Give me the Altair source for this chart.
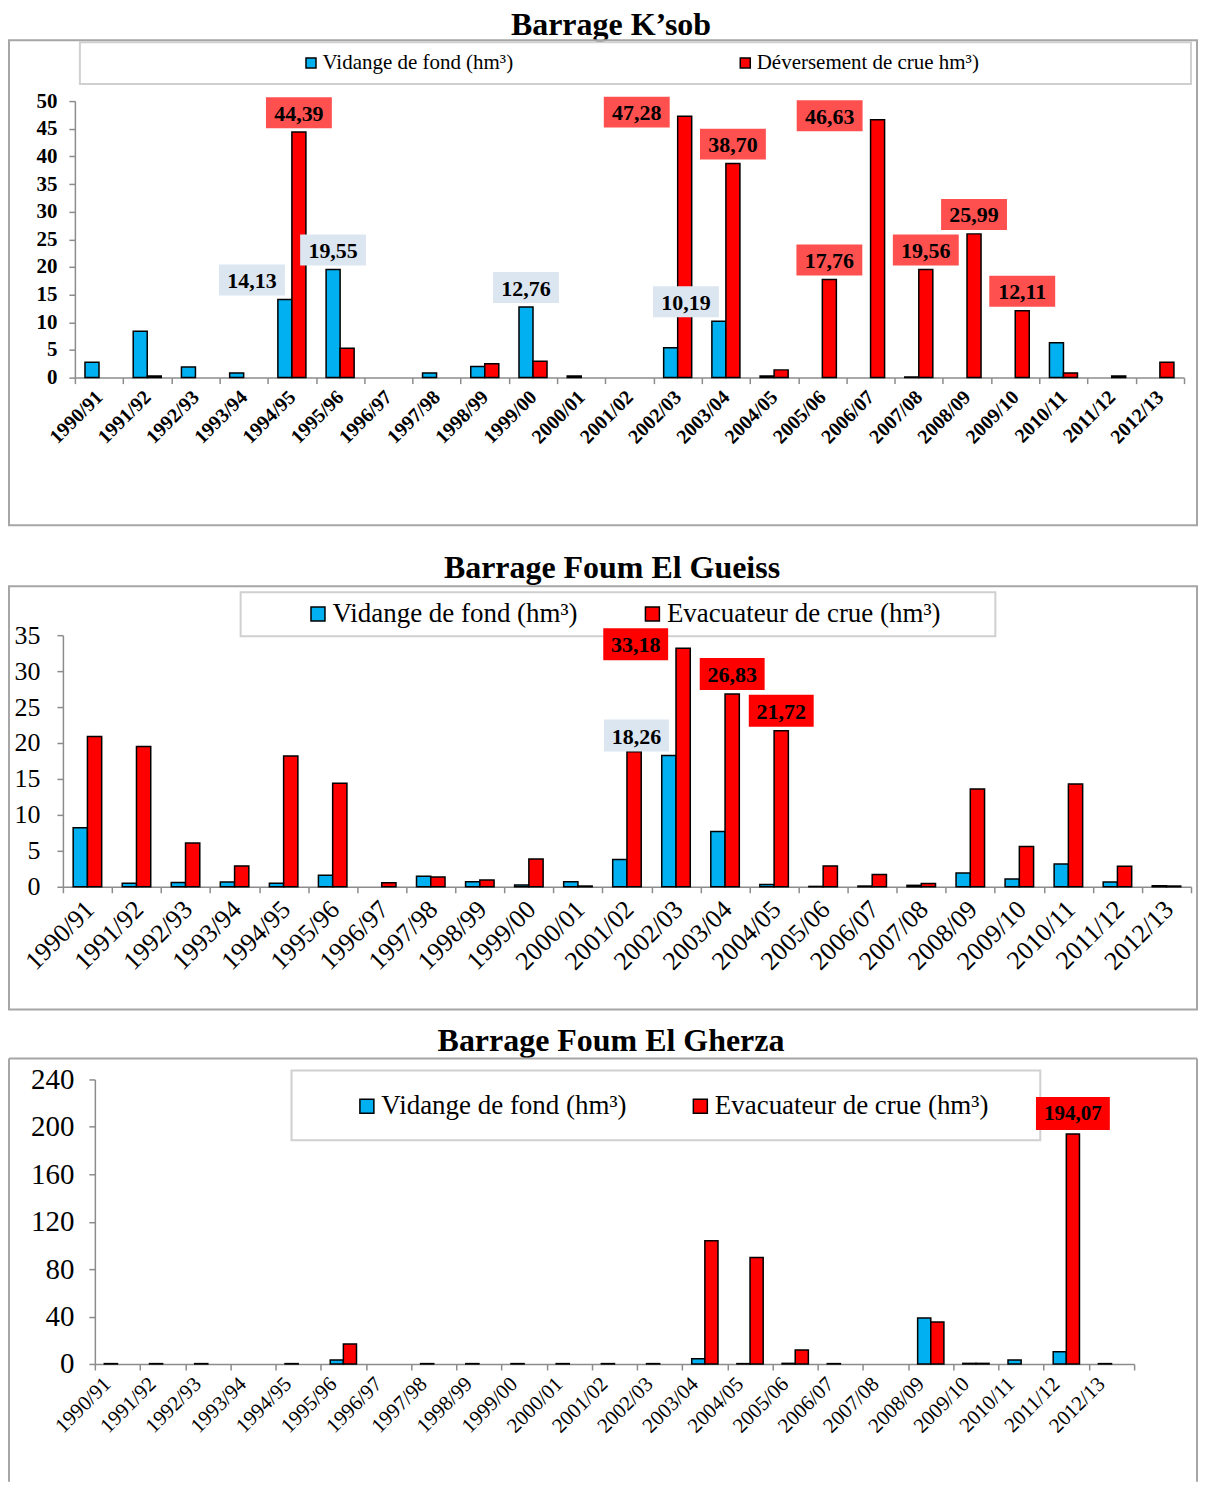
import altair as alt
import pandas as pd

# ---------------- data ----------------
cats = ["1990/91", "1991/92", "1992/93", "1993/94", "1994/95", "1995/96", "1996/97",
        "1997/98", "1998/99", "1999/00", "2000/01", "2001/02", "2002/03", "2003/04",
        "2004/05", "2005/06", "2006/07", "2007/08", "2008/09", "2009/10", "2010/11",
        "2011/12", "2012/13"]

ksob_title = "Barrage K\u2019sob"
ksob_vid_name = "Vidange de fond (hm\u00b3)"
ksob_red_name = "D\u00e9versement de crue hm\u00b3)"
ksob_vid = [2.8, 8.4, 1.9, 0.85, 14.13, 19.55, 0, 0.85, 2.0, 12.76, 0.3, 0, 5.4, 10.19,
            0.3, 0, 0, 0.1, 0, 0, 6.3, 0, 0]
ksob_red = [0, 0.3, 0, 0, 44.39, 5.3, 0, 0, 2.5, 2.95, 0, 0, 47.28, 38.70, 1.4, 17.76,
            46.63, 19.56, 25.99, 12.11, 0.85, 0.3, 2.8]
ksob_lab_vid = ["1994/95", "1995/96", "1999/00", "2003/04"]
ksob_lab_red = ["1994/95", "2002/03", "2003/04", "2005/06", "2006/07", "2007/08",
                "2008/09", "2009/10"]

gueiss_title = "Barrage Foum El Gueiss"
gueiss_vid_name = "Vidange de fond (hm\u00b3)"
gueiss_red_name = "Evacuateur de crue (hm\u00b3)"
gueiss_vid = [8.2, 0.5, 0.6, 0.65, 0.5, 1.6, 0, 1.45, 0.7, 0.23, 0.7, 3.8, 18.26, 7.7,
              0.33, 0.05, 0.1, 0.2, 1.9, 1.07, 3.16, 0.65, 0.14]
gueiss_red = [20.9, 19.5, 6.1, 2.9, 18.2, 14.4, 0.56, 1.35, 0.93, 3.86, 0.1, 18.8, 33.18,
              26.83, 21.72, 2.9, 1.7, 0.45, 13.6, 5.6, 14.3, 2.84, 0.1]
gueiss_lab_vid = ["2002/03"]
gueiss_lab_red = ["2002/03", "2003/04", "2004/05"]

gherza_title = "Barrage Foum El Gherza"
gherza_vid_name = "Vidange de fond (hm\u00b3)"
gherza_red_name = "Evacuateur de crue (hm\u00b3)"
gherza_vid = [0.3, 0.3, 0.3, 0, 0.3, 3.4, 0, 0.3, 0.3, 0.3, 0.3, 0.3, 0.3, 4.5, 0.3, 0.5,
              0.3, 0, 38.7, 0.5, 3.4, 10.4, 0.3]
gherza_red = [0, 0, 0, 0, 0, 16.8, 0, 0, 0, 0, 0, 0, 0, 103.9, 89.8, 11.8, 0, 0, 35.4,
              0.5, 0, 194.07, 0]
gherza_lab_vid = []
gherza_lab_red = ["2011/12"]

# ---------------- style ----------------
SERIF = "Liberation Serif"
BLUE = "#00B0F0"
RED = "#FF0000"
AXIS_GREY = "#8C8C8C"
FRAME_GREY = "#A6A6A6"
BOX_GREY = "#D0D0D0"


def fmt(v):
    return f"{v:.2f}".replace(".", ",")


def box_path(ratio, x0, x1):
    return f"M{x0},-{ratio}L{x1},-{ratio}L{x1},{ratio}L{x0},{ratio}Z"


def one():
    return alt.Data(values=[{"k": 1}])


def panel(title, vid_name, red_name, vid, red, lab_vid, lab_red, g):
    order = [vid_name, red_name]
    rows = []
    for c, a, b in zip(cats, vid, red):
        rows.append({"cat": c, "series": vid_name, "value": a, "other": b})
        rows.append({"cat": c, "series": red_name, "value": b, "other": a})
    df = pd.DataFrame(rows)
    df["lab"] = df["value"].map(fmt)
    bars_df = df[df["value"] > 0]
    lv = df[(df["series"] == vid_name) & df["cat"].isin(lab_vid)]
    lv_left = lv[lv["other"] > lv["value"]]
    lv_mid = lv[lv["other"] <= lv["value"]]
    lr = df[(df["series"] == red_name) & df["cat"].isin(lab_red)]
    near_top = lr["value"] > 0.9 * g["ymax"]
    lr_side = lr[near_top]
    lr_mid = lr[~near_top]

    r0, r1 = g["xrange"]
    x = alt.X("cat:N", sort=cats,
              scale=alt.Scale(domain=cats, paddingInner=0, paddingOuter=0, range=[r0, r1]),
              axis=alt.Axis(title=None, labelAngle=-45, tickBand="extent",
                            labelFont=SERIF, labelFontSize=g["xfs"],
                            labelFontWeight=g["fw"], labelColor="black",
                            labelOffset=g["xlo"],
                            domainColor=AXIS_GREY, tickColor=AXIS_GREY,
                            domainWidth=1.5, tickWidth=1.5, tickSize=6,
                            labelPadding=3, labelLimit=300))
    xo = alt.XOffset("series:N", sort=order,
                     scale=alt.Scale(domain=order, paddingOuter=0.72, paddingInner=0))
    y = alt.Y("value:Q",
              scale=alt.Scale(domain=[0, g["ymax"]], nice=False),
              axis=alt.Axis(title=None, values=g["yticks"], grid=False, offset=-r0,
                            labelFont=SERIF, labelFontSize=g["yfs"],
                            labelFontWeight=g["fw"], labelColor="black",
                            domainColor=AXIS_GREY, tickColor=AXIS_GREY,
                            domainWidth=1.5, tickWidth=1.5, tickSize=6,
                            labelPadding=g["ylp"]))
    color = alt.Color("series:N", sort=order,
                      scale=alt.Scale(domain=order, range=[BLUE, RED]),
                      legend=alt.Legend(title=None, orient="none",
                                        legendX=g["lx"], legendY=g["ly"],
                                        direction="horizontal",
                                        columnPadding=g["lcp"],
                                        symbolType="square", symbolSize=g["ss"],
                                        symbolStrokeColor="black",
                                        symbolStrokeWidth=1.5,
                                        symbolOpacity=1,
                                        labelFont=SERIF, labelFontSize=g["lfs"],
                                        labelColor="black", labelLimit=500,
                                        labelOffset=1, padding=0))

    layers = []
    # invisible spacer fixing the top of this panel's block
    layers.append(alt.Chart(one()).mark_rule(strokeOpacity=0, strokeWidth=1).encode(
        x=alt.value(0), x2=alt.value(10), y=alt.value(g["top"])))
    # title
    layers.append(alt.Chart(one()).mark_text(
        text=title, font=SERIF, fontSize=32, fontWeight="bold", color="black",
        align="center", baseline="top").encode(
        x=alt.value(g["tx"]), y=alt.value(g["ty"])))
    # frame
    fx0, fx1, fy0, fy1 = g["frame"]
    if g.get("open_bottom"):
        for enc in (dict(x=alt.value(fx0), y=alt.value(fy0), y2=alt.value(fy1)),
                    dict(x=alt.value(fx1), y=alt.value(fy0), y2=alt.value(fy1)),
                    dict(x=alt.value(fx0), x2=alt.value(fx1), y=alt.value(fy0))):
            layers.append(alt.Chart(one()).mark_rule(color=FRAME_GREY, strokeWidth=2)
                          .encode(**enc))
    else:
        layers.append(alt.Chart(one()).mark_rect(fillOpacity=0, stroke=FRAME_GREY,
                                                 strokeWidth=2).encode(
            x=alt.value(fx0), x2=alt.value(fx1), y=alt.value(fy0), y2=alt.value(fy1)))
    # legend box
    bx0, bx1, by0, by1 = g["lbox"]
    layers.append(alt.Chart(one()).mark_rect(fillOpacity=0, stroke=BOX_GREY,
                                             strokeWidth=2).encode(
        x=alt.value(bx0), x2=alt.value(bx1), y=alt.value(by0), y2=alt.value(by1)))

    layers.append(alt.Chart(bars_df).mark_bar(stroke="black", strokeWidth=1.5).encode(
        x=x, xOffset=xo, y=y, color=color))

    bw, bh = g["box"]
    half = bw / 2
    ratio = round(bh / bw, 3)
    size = bw * bw
    above = -(bh / 2 + 4)
    gap = round(15 / half, 3)

    def label_layers(d, fill, kind):
        if len(d) == 0:
            return []
        if kind == "mid":
            x0, x1, yoff, dx = -1, 1, above, 0
        elif kind == "left_above":
            x0, x1, yoff, dx = -2, 0, above, -half
        else:  # beside, left of the bar near its top
            x0, x1, yoff, dx = -2 - gap, -gap, -4, -half - 15
        bx = alt.Chart(d).mark_point(shape=box_path(ratio, x0, x1), size=size,
                                     filled=True, fill=fill, opacity=1, strokeWidth=0,
                                     yOffset=yoff).encode(x=x, xOffset=xo, y=y)
        tx = alt.Chart(d).mark_text(font=SERIF, fontSize=g["tfs"], fontWeight="bold",
                                    color="black", align="center", baseline="middle",
                                    dx=dx, dy=yoff + 1).encode(
            x=x, xOffset=xo, y=y, text="lab:N")
        return [bx, tx]

    layers += label_layers(lv_left, "#DCE6F1", "left_above")
    layers += label_layers(lv_mid, "#DCE6F1", "mid")
    layers += label_layers(lr_mid, g["redbox"], "mid")
    layers += label_layers(lr_side, g["redbox"], "side")

    return alt.layer(*layers).properties(width=r1, height=g["h"])


# geometry is relative to each panel's plot origin (page x = 62)
g1 = dict(xrange=(12, 1123), h=277, ymax=50, yticks=list(range(0, 51, 5)), fw="bold",
          xfs=20, xlo=-7, yfs=21, ylp=12, top=-91, tx=549, ty=-91,
          frame=(-54, 1136, -61, 425), lbox=(17, 1130, -59, -17),
          lx=238, ly=-49, lcp=221, ss=100, lfs=21,
          box=(66, 31), tfs=22, redbox="#FF5050")
g2 = dict(xrange=(0, 1130), h=252, ymax=35, yticks=list(range(0, 36, 5)), fw="normal",
          xfs=26, xlo=-7, yfs=26, ylp=17, top=-109, tx=550, ty=-82,
          frame=(-54, 1136, -49, 375), lbox=(178, 934, -43, 1),
          lx=242, ly=-35, lcp=61, ss=196, lfs=27,
          box=(65, 32), tfs=22, redbox="#FF0000")
g3 = dict(xrange=(32, 1073), h=285, ymax=240, yticks=list(range(0, 241, 40)), fw="normal",
          xfs=21, xlo=-18, yfs=29, ylp=15, top=-69, tx=549, ty=-53,
          frame=(-54, 1136, -21, 403), open_bottom=True, lbox=(229, 979, -9, 61),
          lx=291, ly=13, lcp=60, ss=196, lfs=27,
          box=(74, 33), tfs=21, redbox="#FF0000")

p1 = panel(ksob_title, ksob_vid_name, ksob_red_name, ksob_vid, ksob_red,
           ksob_lab_vid, ksob_lab_red, g1)
p2 = panel(gueiss_title, gueiss_vid_name, gueiss_red_name, gueiss_vid, gueiss_red,
           gueiss_lab_vid, gueiss_lab_red, g2)
p3 = panel(gherza_title, gherza_vid_name, gherza_red_name, gherza_vid, gherza_red,
           gherza_lab_vid, gherza_lab_red, g3)

chart = alt.vconcat(p1, p2, p3, spacing=0).resolve_scale(
    color="independent", x="independent", y="independent", xOffset="independent"
).properties(padding=0).configure_view(strokeWidth=0)

chart.save("out.html", embed_options={"renderer": "svg", "actions": False})
